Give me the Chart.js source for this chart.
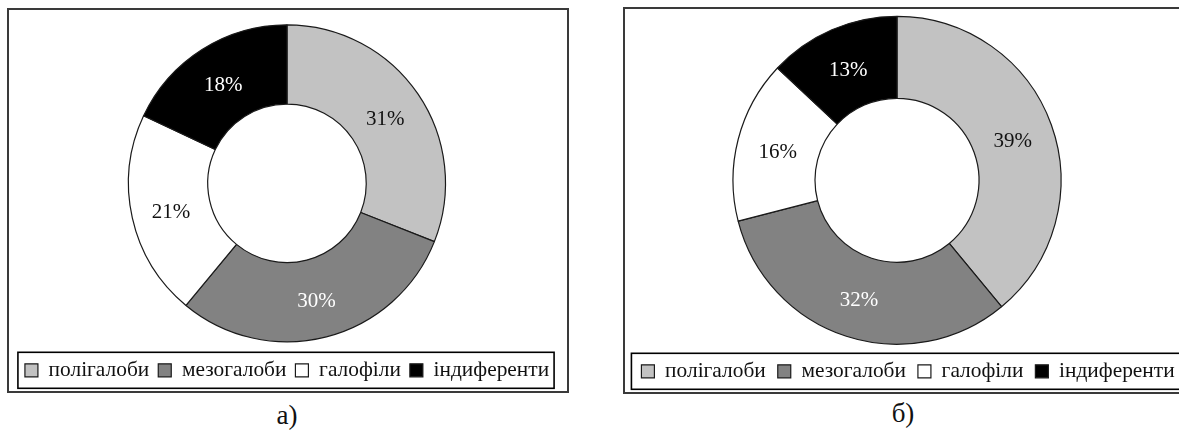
<!DOCTYPE html>
<html><head><meta charset="utf-8">
<script src="https://cdn.jsdelivr.net/npm/chart.js@4.4.1/dist/chart.umd.min.js"></script>
<style>
html,body{margin:0;padding:0;background:#fff;width:1179px;height:430px;overflow:hidden;position:relative;font-family:"Liberation Serif","Times New Roman",serif;}
.frame{position:absolute;border:2px solid #3a3a3a;box-sizing:border-box;}
#fa{left:7px;top:8px;width:562px;height:385px;}
#fb{left:623px;top:7px;width:575px;height:387px;}
canvas{position:absolute;}
#ca{left:9px;top:10px;width:558px;height:381px;}
#cb{left:618px;top:9px;width:580px;height:383px;}
.cap{position:absolute;font-size:27px;color:#111;transform:translateX(-50%);line-height:1;}
</style></head>
<body>
<div class="frame" id="fa"></div>
<div class="frame" id="fb"></div>
<canvas id="ca" width="558" height="381"></canvas>
<canvas id="cb" width="580" height="383"></canvas>
<div class="cap" id="capa" style="left:287px;top:402px;"></div>
<div class="cap" id="capb" style="left:903px;top:400px;"></div>
<script>
const categories = ['полігалоби', 'мезогалоби', 'галофіли', 'індиференти'];
const valuesA = [31, 30, 21, 18];
const valuesB = [39, 32, 16, 13];
const captions = ['а)', 'б)'];
const sliceColors = ['#c2c2c2', '#828282', '#ffffff', '#000000'];
const labelColors = ['#111111', '#ffffff', '#111111', '#ffffff'];

document.getElementById('capa').textContent = captions[0];
document.getElementById('capb').textContent = captions[1];

const serif = '"Liberation Serif", "Times New Roman", serif';

const shiftPlugin = {
  id: 'shiftArea',
  afterLayout(chart, args, opts) {
    const dx = opts.dx || 0;
    if (dx) { chart.chartArea.left += dx; chart.chartArea.right += dx; }
  }
};

const sliceLabelPlugin = {
  id: 'sliceLabels',
  afterDatasetsDraw(chart, args, opts) {
    const ctx = chart.ctx;
    const meta = chart.getDatasetMeta(0);
    const data = chart.data.datasets[0].data;
    ctx.save();
    ctx.font = opts.size + 'px ' + serif;
    ctx.textAlign = 'center';
    ctx.textBaseline = 'middle';
    meta.data.forEach((arc, i) => {
      const p = arc.getProps(['x', 'y', 'startAngle', 'endAngle', 'innerRadius', 'outerRadius'], true);
      const a = (p.startAngle + p.endAngle) / 2;
      const r = (p.innerRadius + p.outerRadius) / 2;
      ctx.fillStyle = labelColors[i];
      ctx.fillText(data[i] + '%', p.x + Math.cos(a) * r, p.y + Math.sin(a) * r + opts.dy);
    });
    ctx.restore();
  }
};

const legendBoxPlugin = {
  id: 'legendBox',
  afterDraw(chart, args, opts) {
    const lg = chart.legend;
    if (!lg || !lg.legendHitBoxes || !lg.legendHitBoxes.length) return;
    const hb = lg.legendHitBoxes;
    const last = hb[hb.length - 1];
    const left = hb[0].left - opts.padL;
    const right = last.left + last.width + opts.padR;
    const cy = hb[0].top + hb[0].height / 2;
    const ctx = chart.ctx;
    ctx.save();
    ctx.strokeStyle = '#000';
    ctx.lineWidth = 1.6;
    ctx.strokeRect(left, cy - opts.half, right - left, opts.half * 2);
    ctx.restore();
  }
};

function makeChart(id, values, cfg) {
  return new Chart(document.getElementById(id), {
    type: 'doughnut',
    data: {
      labels: categories,
      datasets: [{
        data: values,
        backgroundColor: sliceColors,
        borderColor: '#1a1a1a',
        borderWidth: 1.2,
        hoverOffset: 0
      }]
    },
    options: {
      responsive: false,
      animation: false,
      radius: cfg.radius,
      cutout: '50%',
      layout: { padding: cfg.padding },
      plugins: {
        tooltip: { enabled: false },
        legend: {
          position: 'bottom',
          labels: {
            boxWidth: 13,
            boxHeight: 13,
            padding: cfg.itemPad,
            color: '#111',
            font: { family: serif, size: cfg.legendSize }
          }
        },
        shiftArea: { dx: cfg.dx },
        sliceLabels: { size: 21, dy: 3 },
        legendBox: { padL: cfg.boxPadL, padR: cfg.boxPadR, half: 18 }
      }
    },
    plugins: [shiftPlugin, sliceLabelPlugin, legendBoxPlugin]
  });
}

makeChart('ca', valuesA, {
  radius: 158.5, padding: { top: 6, bottom: 0, left: 0, right: 2 },
  itemPad: 9, legendSize: 21.4, dx: 0, boxPadL: 7, boxPadR: 5
});
makeChart('cb', valuesB, {
  radius: 164, padding: { top: 3, bottom: 0, left: 0, right: 0 },
  itemPad: 12, legendSize: 21.4, dx: -11, boxPadL: 10, boxPadR: 10
});
</script>
</body></html>
